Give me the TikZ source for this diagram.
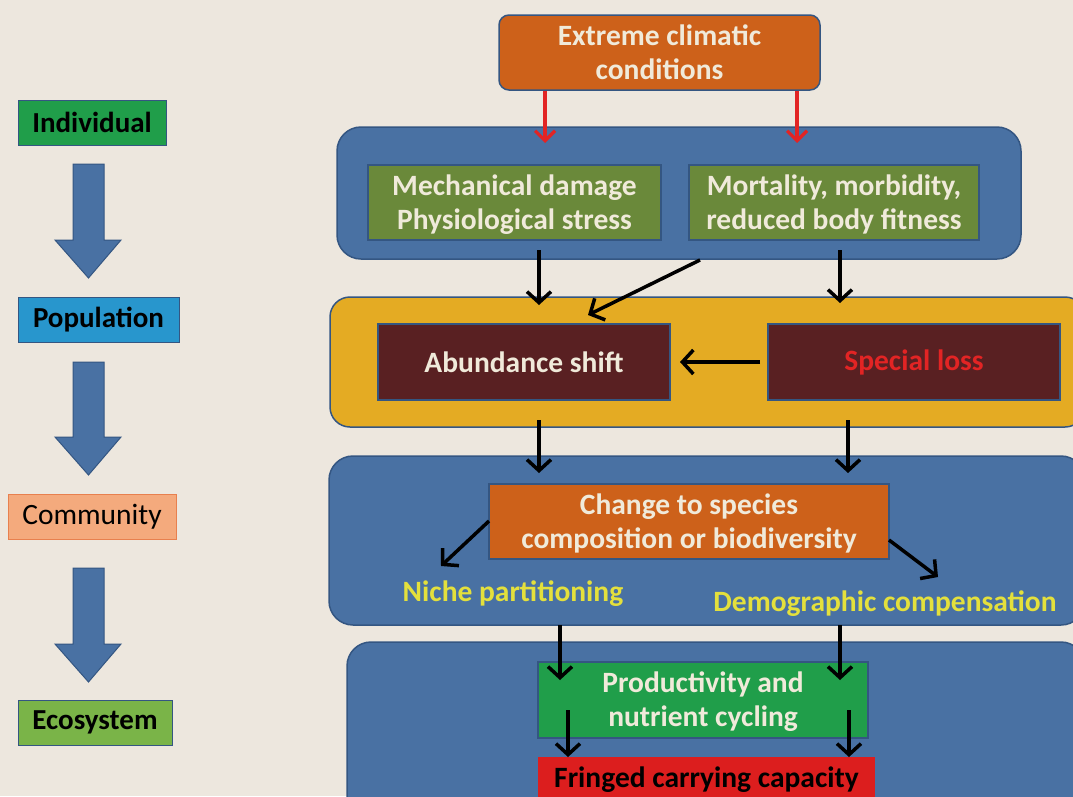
\documentclass[tikz,border=0pt]{standalone}
\usepackage{fontspec}
\setmainfont{Carlito}
\usetikzlibrary{arrows.meta}
\definecolor{bgc}{RGB}{237,231,222}
\definecolor{pblue}{RGB}{73,113,163}
\definecolor{pbord}{RGB}{52,86,130}
\definecolor{pyel}{RGB}{228,171,35}
\definecolor{olive}{RGB}{106,137,58}
\definecolor{maroon}{RGB}{89,32,34}
\definecolor{orng}{RGB}{205,97,26}
\definecolor{grn}{RGB}{32,158,74}
\definecolor{popblue}{RGB}{40,150,205}
\definecolor{commf}{RGB}{244,170,125}
\definecolor{commb}{RGB}{232,128,78}
\definecolor{ecog}{RGB}{122,180,72}
\definecolor{ltxt}{RGB}{240,234,218}
\definecolor{ytxt}{RGB}{228,224,60}
\definecolor{rtxt}{RGB}{226,36,36}
\definecolor{rbox}{RGB}{220,30,30}
\tikzset{
  panel/.style={draw=pbord, line width=1.5pt, fill=pblue, rounded corners=24pt},
  box/.style={draw=pbord, line width=1.5pt, align=center, inner sep=0pt, font=\bfseries\fontsize{29.5}{34}\selectfont, text=ltxt},
  box2/.style={box, text depth=1pt},
  lvl/.style={draw=pbord, line width=1pt, inner sep=0pt, font=\bfseries\fontsize{29}{32}\selectfont, text=black},
  blk/.style={draw=black, line width=3.5pt, -{Straight Barb[length=11pt,width=24pt,line width=3.5pt]}},
  redar/.style={draw=rtxt, line width=3.2pt, -{Straight Barb[length=10pt,width=20pt,line width=3.2pt]}},
  bigarrow/.style={fill=pblue, draw=pbord, line width=1pt, line join=miter},
  ylab/.style={font=\bfseries\fontsize{29.5}{32}\selectfont, text=ytxt, inner sep=0pt},
}
\begin{document}
\begin{tikzpicture}[x=1pt,y=-1pt]
\useasboundingbox (0,0) rectangle (1073,796);
\clip (0,0) rectangle (1073,796);
\fill[bgc] (0,0) rectangle (1073,796);

% left column
\node[lvl, fill=grn, minimum width=148pt, minimum height=45pt] (ind) at (92,122.5) {Individual};
\node[lvl, fill=popblue, minimum width=161pt, minimum height=45pt] (pop) at (98.5,319.5) {Population};
\node[lvl, draw=commb, fill=commf, minimum width=168pt, minimum height=45pt, font=\fontsize{29.5}{32}\selectfont] (com) at (92,516.5) {Community};
\node[lvl, fill=ecog, minimum width=154pt, minimum height=45pt] (eco) at (95,722.5) {Ecosystem};
\draw[bigarrow] (73,164) -- (104,164) -- (104,240) -- (121,240) -- (88.5,278) -- (55,240) -- (73,240) -- cycle;
\draw[bigarrow] (73,362) -- (104,362) -- (104,437) -- (121,437) -- (88.5,475) -- (55,437) -- (73,437) -- cycle;
\draw[bigarrow] (73,568) -- (104,568) -- (104,644) -- (121,644) -- (88.5,682) -- (55,644) -- (73,644) -- cycle;

% panels
\draw[panel] (337,127) rectangle (1021,259);
\draw[panel, fill=pyel, rounded corners=20pt] (330,297) rectangle (1085,427);
\draw[panel] (329,456) rectangle (1085,625);
\draw[panel] (347,642) rectangle (1085,830);

% top box
\node[box2, fill=orng, rounded corners=10pt, minimum width=321pt, minimum height=75pt] (ext) at (659.5,52.5) {Extreme climatic\\conditions};
% row 1
\node[box2, fill=olive, minimum width=293pt, minimum height=75pt] (mech) at (514.5,202.5) {Mechanical damage\\Physiological stress};
\node[box2, fill=olive, minimum width=290pt, minimum height=75pt] (mort) at (834,202.5) {Mortality, morbidity,\\reduced body fitness};
% row 2
\node[box, fill=maroon, minimum width=292pt, minimum height=76pt] (abs) at (524,362) {Abundance shift};
\node[box, fill=maroon, minimum width=292pt, minimum height=76pt, text=rtxt] (spl) at (914,362) {Special loss};
% row 3
\node[box2, fill=orng, minimum width=400pt, minimum height=75pt] (chg) at (689,521.5) {Change to species\\composition or biodiversity};
\node[ylab] (niche) at (513,594) {Niche partitioning};
\node[ylab] (demo) at (885,604) {Demographic compensation};
% row 4
\node[box2, fill=grn, minimum width=330pt, minimum height=76pt] (prod) at (703,700) {Productivity and\\nutrient cycling};
\node[box, draw=none, fill=rbox, minimum width=337pt, minimum height=60pt, anchor=north] (fcc) at (706.5,756) {};
\node[box, text=black, draw=none] (fcct) at (706.5,780) {Fringed carrying capacity};

% red arrows
\coordinate (r1) at (545,143);
\coordinate (r2) at (797,143);
\draw[redar] (ext.south -| r1) -- (r1);
\draw[redar] (ext.south -| r2) -- (r2);

% row1 -> row2
\coordinate (a1s) at (539,250); \coordinate (a1e) at (539,305);
\coordinate (a2s) at (700,260); \coordinate (a2e) at (588,315);
\coordinate (a3s) at (840,250); \coordinate (a3e) at (840,303);
\draw[blk] (a1s) -- (a1e);
\draw[blk] (a2s) -- (a2e);
\draw[blk] (a3s) -- (a3e);
% special -> abundance
\coordinate (s0) at (760,362);
\coordinate (s1) at (680,362);
\draw[blk] (s0) -- (s1);
% row2 -> row3
\coordinate (b1s) at (539,420); \coordinate (b1e) at (539,473);
\coordinate (b2s) at (848,420); \coordinate (b2e) at (848,473);
\draw[blk] (b1s) -- (b1e);
\draw[blk] (b2s) -- (b2e);
% change -> labels
\coordinate (c1s) at (489,521); \coordinate (c1e) at (441,566);
\coordinate (c2s) at (889,540); \coordinate (c2e) at (938,577);
\draw[blk] (c1s) -- (c1e);
\draw[blk] (c2s) -- (c2e);
% row3 -> row4
\coordinate (d1s) at (560,625); \coordinate (d1e) at (560,680);
\coordinate (d2s) at (840,625); \coordinate (d2e) at (840,680);
\draw[blk] (d1s) -- (d1e);
\draw[blk] (d2s) -- (d2e);
% prod -> fcc
\coordinate (e1s) at (568,710); \coordinate (e1e) at (568,757);
\coordinate (e2s) at (849,710); \coordinate (e2e) at (849,757);
\draw[blk] (e1s) -- (e1e);
\draw[blk] (e2s) -- (e2e);
\end{tikzpicture}
\end{document}
